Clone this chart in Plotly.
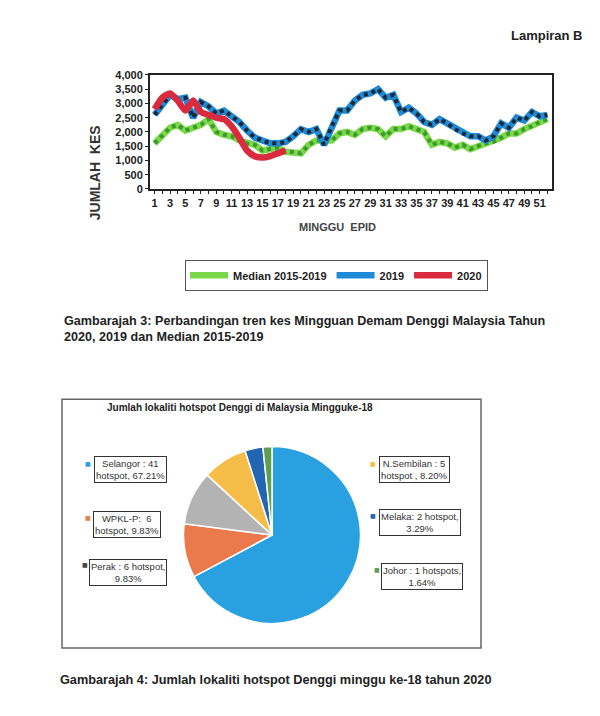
import plotly.graph_objects as go

# ---------------- data ----------------
weeks = list(range(1, 53))
median_2015_2019 = [1600, 1900, 2150, 2250, 2050, 2150, 2250, 2450, 2000, 1900,
                    1850, 1700, 1600, 1550, 1350, 1400, 1450, 1300, 1300, 1250,
                    1550, 1700, 1700, 1700, 1950, 2000, 1900, 2100, 2150, 2100,
                    1850, 2100, 2100, 2200, 2100, 2000, 1550, 1650, 1600, 1450,
                    1550, 1400, 1500, 1600, 1650, 1800, 1950, 1950, 2100, 2200,
                    2350, 2450]
cases_2019 = [2600, 2950, 3300, 3150, 3200, 2500, 3050, 2900, 2650, 2750,
              2550, 2350, 2050, 1800, 1700, 1600, 1600, 1650, 1850, 2100,
              2000, 2100, 1550, 2200, 2750, 2750, 3100, 3300, 3350, 3500,
              3200, 3300, 2700, 2850, 2650, 2350, 2250, 2450, 2300, 2100,
              1950, 1850, 1850, 1700, 1850, 2300, 2150, 2500, 2400, 2700,
              2550, 2600]
weeks_2020 = list(range(1, 19))
cases_2020 = [2800, 3200, 3350, 3100, 2750, 3100, 2700, 2600, 2500, 2450,
              2200, 1800, 1350, 1150, 1100, 1150, 1250, 1350]
x_tick_vals = list(range(1, 52, 2))
y_tick_vals = list(range(0, 4001, 500))

states = ["Selangor", "WPKL-P", "Perak", "N.Sembilan", "Melaka", "Johor"]
hotspots = [41, 6, 6, 5, 2, 1]
pie_label_texts = ["Selangor : 41<br>hotspot, 67.21%",
                   "WPKL-P:  6<br>hotspot, 9.83%",
                   "Perak : 6 hotspot,<br>9.83%",
                   "N.Sembilan : 5<br>hotspot , 8.20%",
                   "Melaka: 2 hotspot,<br>3.29%",
                   "Johor : 1 hotspots,<br>1.64%"]

# ---------------- style ----------------
OFF = 8  # page body margin
W, H = 600 - OFF, 716 - OFF
def fx(px):
    return (px - OFF) / W
def fy(py):
    return 1 - (py - OFF) / H

FONT = "Liberation Sans"
pie_colors = ["#29a0e0", "#ea7a4c", "#b3b3b3", "#f5bd48", "#2266b3", "#5e9e52"]
# label box centres and key-square positions (pixels)
label_pos = [(131, 471), (127, 527), (128, 576), (414, 471), (420, 525), (422, 580)]
key_pos = [(88, 465), (88, 520), (85, 568), (373, 465), (373, 518), (377, 573)]

fig = go.Figure()

# median
fig.add_trace(go.Scatter(x=weeks, y=median_2015_2019, mode="lines", name="Median 2015-2019",
                         line=dict(color="#7ad84a", width=6.5), legendgroup="m"))
fig.add_trace(go.Scatter(x=weeks, y=median_2015_2019, mode="lines", showlegend=False,
                         line=dict(color="#3c9a2c", width=4, dash="4px,4px"), legendgroup="m"))
# 2019
fig.add_trace(go.Scatter(x=weeks, y=cases_2019, mode="lines", name="2019",
                         line=dict(color="#1f8ad5", width=6.5), legendgroup="a"))
fig.add_trace(go.Scatter(x=weeks, y=cases_2019, mode="lines", showlegend=False,
                         line=dict(color="#1b2838", width=4, dash="4px,4px"), legendgroup="a"))
# 2020
fig.add_trace(go.Scatter(x=weeks_2020, y=cases_2020, mode="lines", name="2020",
                         line=dict(color="#d92a3e", width=6.5, shape="spline", smoothing=0.6)))

# pie
fig.add_trace(go.Pie(labels=states, values=hotspots, sort=False, direction="clockwise",
                     rotation=0, textinfo="none", showlegend=False,
                     marker=dict(colors=pie_colors, line=dict(color="white", width=1.5)),
                     domain=dict(x=[fx(182), fx(362)], y=[fy(628), fy(448)])))

fig.update_xaxes(domain=[fx(150), fx(552)], range=[0.4, 52.6],
                 tickvals=x_tick_vals, ticktext=[str(v) for v in x_tick_vals],
                 tickangle=0, showgrid=False, zeroline=False,
                 showline=True, mirror=True, linecolor="#222", linewidth=2,
                 ticks="outside", ticklen=3, tickcolor="#222",
                 minor=dict(dtick=1, tick0=1, ticks="outside", ticklen=3, tickcolor="#222"),
                 tickfont=dict(family=FONT, size=11, color="#222", weight="bold"))
fig.update_yaxes(domain=[fy(186), fy(70)], range=[0, 4000],
                 tickvals=y_tick_vals, tickformat=",d", showgrid=False, zeroline=False,
                 showline=True, mirror=True, linecolor="#222", linewidth=2,
                 ticks="outside", ticklen=3, tickcolor="#222",
                 tickfont=dict(family=FONT, size=11, color="#222", weight="bold"))

ann = []
ann.append(dict(x=fx(585), y=fy(30), xref="paper", yref="paper", xanchor="right", yanchor="middle",
                text="Lampiran B", showarrow=False,
                font=dict(family=FONT, size=13, color="#222", weight="bold")))
ann.append(dict(x=fx(95), y=fy(170), xref="paper", yref="paper", xanchor="center", yanchor="middle",
                text="JUMLAH  KES", textangle=-90, showarrow=False,
                font=dict(family=FONT, size=14, color="#333", weight="bold")))
ann.append(dict(x=fx(337), y=fy(225), xref="paper", yref="paper", xanchor="center", yanchor="middle",
                text="MINGGU  EPID", showarrow=False,
                font=dict(family=FONT, size=11, color="#444", weight="bold")))
ann.append(dict(x=fx(62), y=fy(311), xref="paper", yref="paper", xanchor="left", yanchor="top",
                align="left", showarrow=False,
                text="Gambarajah 3: Perbandingan tren kes Mingguan Demam Denggi Malaysia Tahun<br>2020, 2019 dan Median 2015-2019",
                font=dict(family=FONT, size=12.6, color="#222", weight="bold")))
ann.append(dict(x=fx(240), y=fy(408), xref="paper", yref="paper", xanchor="center", yanchor="middle",
                text="Jumlah lokaliti hotspot Denggi di Malaysia Mingguke-18", showarrow=False,
                font=dict(family=FONT, size=10, color="#222", weight="bold")))
ann.append(dict(x=fx(58), y=fy(685), xref="paper", yref="paper", xanchor="left", yanchor="middle",
                text="Gambarajah 4: Jumlah lokaliti hotspot Denggi minggu ke-18 tahun 2020", showarrow=False,
                font=dict(family=FONT, size=12.7, color="#222", weight="bold")))

for txt, (cx, cy), (kx, ky), col in zip(pie_label_texts, label_pos, key_pos, pie_colors):
    ann.append(dict(x=fx(cx), y=fy(cy), xref="paper", yref="paper", xanchor="center", yanchor="middle",
                    text=txt, showarrow=False, align="center",
                    bordercolor="#333", borderwidth=1, borderpad=1, bgcolor="white",
                    font=dict(family=FONT, size=9.5, color="#333")))
    ann.append(dict(x=fx(kx), y=fy(ky), xref="paper", yref="paper", xanchor="center", yanchor="middle",
                    text="■", showarrow=False,
                    font=dict(family="DejaVu Sans", size=6, color=("#444" if col == "#b3b3b3" else col))))

fig.update_layout(
    width=W, height=H, autosize=False,
    margin=dict(l=0, r=0, t=0, b=0),
    paper_bgcolor="white", plot_bgcolor="white",
    annotations=ann,
    shapes=[dict(type="rect", xref="paper", yref="paper",
                 x0=fx(62), x1=fx(481), y0=fy(653), y1=fy(400),
                 line=dict(color="#666", width=1.5), fillcolor="rgba(0,0,0,0)", layer="below")],
    legend=dict(orientation="h", x=fx(185), y=fy(258), xanchor="left", yanchor="top",
                bordercolor="#555", borderwidth=1, bgcolor="white",
                font=dict(family=FONT, size=11, color="#222", weight="bold"),
                itemwidth=38),
    font=dict(family=FONT),
)

fig.write_html("out.html")
